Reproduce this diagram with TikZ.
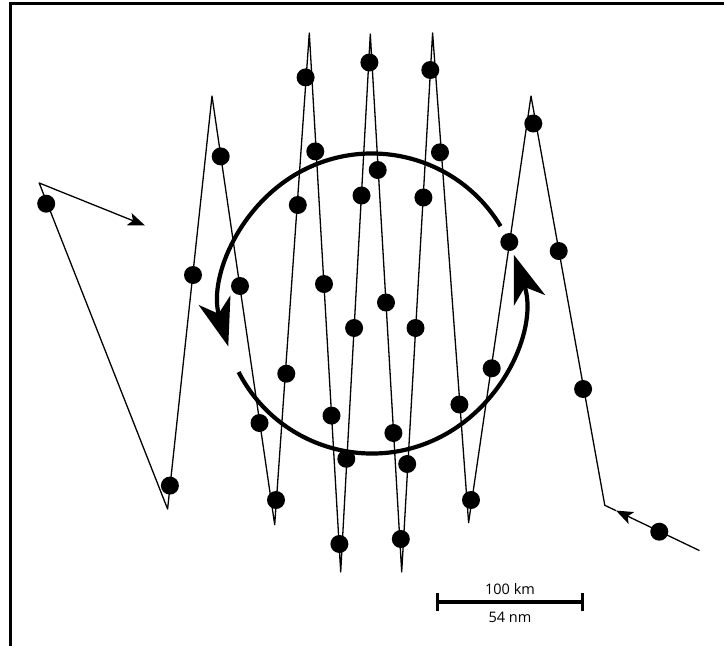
\documentclass[tikz,border=0pt]{standalone}
\usepackage{fontspec}
\setmainfont{Open Sans}
\usetikzlibrary{arrows.meta}
\begin{document}
\begin{tikzpicture}[x=1pt,y=-1pt,
  track/.style={line width=1.3pt, line join=round},
  trackarrow/.style={-{Stealth[length=17pt,width=13pt,inset=4pt]}},
  dot/.style={circle, fill=black, inner sep=0pt, minimum size=18pt},
  cyc/.style={line width=4.2pt, -{Stealth[length=48pt,width=33pt,inset=14pt]}},
  lbl/.style={font=\fontsize{14.5}{16}\selectfont, inner sep=0pt, anchor=base},
  bar/.style={line width=3.6pt},
  frame/.style={line width=3pt, line join=miter},
]
\useasboundingbox (0,0) rectangle (724,646);
% frame (left and top edges)
\draw[frame] (10,646) -- (10,3) -- (724,3);

% track vertices
\coordinate (s0) at (699.5,550.6);
\coordinate (m0) at (616,510.6);
\coordinate (v1) at (604.8,505.3);
\coordinate (v2) at (531,96);
\coordinate (v3) at (468.6,522.6);
\coordinate (v4) at (432.6,33);
\coordinate (v5) at (401.7,572);
\coordinate (v6) at (370.3,34);
\coordinate (v7) at (340.7,572);
\coordinate (v8) at (309.3,33);
\coordinate (v9) at (274.7,524.7);
\coordinate (v10) at (212,96);
\coordinate (v11) at (167.6,509);
\coordinate (v12) at (39.2,183);
\coordinate (v13) at (145,225.5);

\draw[track, trackarrow] (s0) -- (m0);
\draw[track, trackarrow] (m0) -- (v1) -- (v2) -- (v3) -- (v4) -- (v5) -- (v6)
  -- (v7) -- (v8) -- (v9) -- (v10) -- (v11) -- (v12) -- (v13);

% positions
\foreach \n/\p in {1/{46.2,203.7},2/{169.9,485.6},3/{193,275},4/{220.7,156.4},
  5/{240,286},6/{259.5,423},7/{276,500},8/{286.3,373.7},9/{297.8,205},
  10/{305.6,77.4},11/{315.3,151.4},12/{324,284},13/{331.5,415.6},
  14/{346.3,458.8},15/{339.4,544},16/{361.5,195.5},17/{354.1,328},
  18/{369.4,62.5},19/{377.7,170},20/{386,302.5},21/{393.4,433},
  22/{400.8,539},23/{407.2,464},24/{415.5,328},25/{423.4,197.5},
  26/{430.3,70},27/{440,152.3},28/{459.4,404.5},29/{471,500},
  30/{491.7,368.3},31/{509.3,242},32/{533.3,123.5},33/{558.7,251},
  34/{583.1,389},35/{659.3,531.7}}
  {\node[dot] (d\n) at (\p) {};}

% cyclonic circulation arrows
\coordinate (c) at (372,303.5);
\draw[cyc] ([shift={(-31:150)}]c) arc[start angle=-31, end angle=-196.6, radius=150];
\draw[cyc] ([shift={(-207.2:150)}]c) arc[start angle=-207.2, end angle=-378.9, radius=150];

% scale bar
\coordinate (sbL) at (437,602);
\coordinate (sbR) at (582,602);
\draw[bar] (sbL) -- (sbR);
\draw[line width=3pt] ([yshift=-9pt]sbL) -- ([yshift=9pt]sbL);
\draw[line width=3pt] ([yshift=-9pt]sbR) -- ([yshift=9pt]sbR);
\node[lbl] (km) at (510,594) {100 km};
\node[lbl] (nm) at (510,622.5) {54 nm};
\end{tikzpicture}
\end{document}
